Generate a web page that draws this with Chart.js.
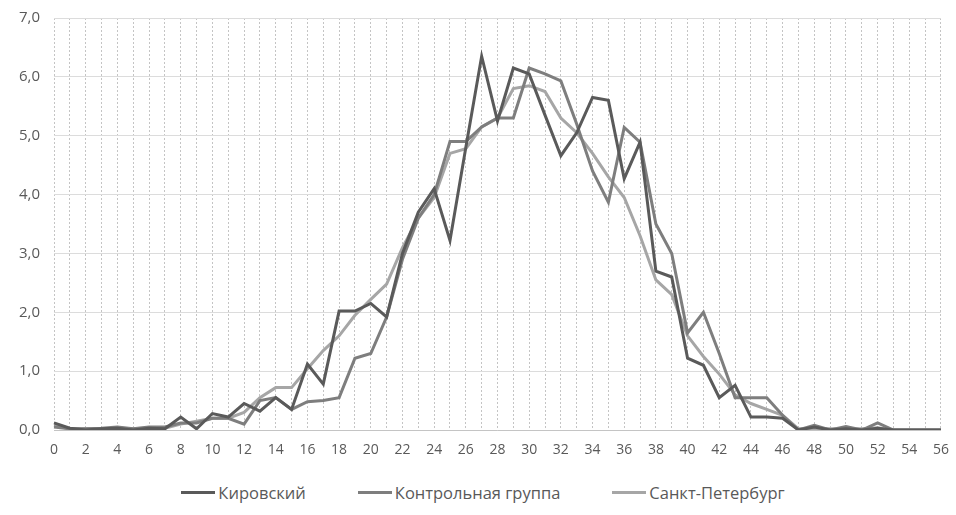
<!DOCTYPE html>
<html>
<head>
<meta charset="utf-8">
<script src="https://cdn.jsdelivr.net/npm/chart.js@4.4.1/dist/chart.umd.min.js"></script>
<style>
  html, body { margin: 0; padding: 0; background: #ffffff; }
  #wrap { width: 956px; height: 515px; overflow: hidden; }
  #chart { display: block; margin-top: -5px; }
  #legend {
    display: flex; justify-content: center; align-items: center;
    width: 956px; height: 45px; padding-left: 10px; box-sizing: border-box;
    font-family: 'Open Sans', sans-serif; font-size: 16.5px; color: #595959;
  }
  #legend .item { display: flex; align-items: center; margin: 0 26px; }
  #legend .swatch { display: inline-block; width: 34px; height: 3px; margin-right: 3px; }
</style>
</head>
<body>
<div id="wrap">
  <canvas id="chart" width="961" height="475"></canvas>
  <div id="legend"></div>
</div>
<script>
// x positions 0..56
var categories = [];
for (var i = 0; i <= 56; i++) { categories.push(String(i)); }

var seriesNames = ['Кировский', 'Контрольная группа', 'Санкт-Петербург'];

var kirovsky = [
  0.12, 0.03, 0.00, 0.02, 0.03, 0.00, 0.03, 0.02, 0.22, 0.02,
  0.28, 0.22, 0.45, 0.32, 0.55, 0.35, 1.12, 0.78, 2.02, 2.02,
  2.15, 1.92, 3.00, 3.70, 4.10, 3.22, 4.80, 6.35, 5.25, 6.15,
  6.05, 5.35, 4.66, 5.05, 5.65, 5.60, 4.27, 4.89, 2.70, 2.60,
  1.22, 1.10, 0.55, 0.76, 0.22, 0.22, 0.20, 0.00, 0.05, 0.00,
  0.02, 0.00, 0.03, 0.00, 0.00, 0.00, 0.00
];

var control = [
  0.05, 0.02, 0.02, 0.03, 0.05, 0.02, 0.05, 0.05, 0.12, 0.12,
  0.20, 0.20, 0.10, 0.50, 0.55, 0.35, 0.48, 0.50, 0.55, 1.22,
  1.30, 1.92, 2.90, 3.60, 4.00, 4.90, 4.90, 5.15, 5.30, 5.30,
  6.15, 6.05, 5.93, 5.20, 4.40, 3.87, 5.14, 4.89, 3.50, 3.00,
  1.65, 2.00, 1.30, 0.55, 0.55, 0.55, 0.25, 0.00, 0.08, 0.00,
  0.06, 0.00, 0.12, 0.00, 0.00, 0.00, 0.00
];

var spb = [
  0.08, 0.02, 0.02, 0.02, 0.03, 0.02, 0.03, 0.03, 0.10, 0.15,
  0.20, 0.20, 0.30, 0.55, 0.72, 0.72, 1.04, 1.35, 1.60, 1.95,
  2.22, 2.48, 3.10, 3.60, 3.95, 4.70, 4.78, 5.15, 5.30, 5.80,
  5.85, 5.75, 5.30, 5.05, 4.70, 4.30, 3.95, 3.30, 2.55, 2.30,
  1.60, 1.25, 0.95, 0.60, 0.45, 0.35, 0.25, 0.02, 0.03, 0.02,
  0.02, 0.02, 0.04, 0.00, 0.00, 0.00, 0.00
];

var yTicks = [0, 1, 2, 3, 4, 5, 6, 7];

var lineColors = ['#5a5a5a', '#7e7e7e', '#a6a6a6'];
var textColor = '#595959';

function makeSet(label, values, color) {
  return {
    label: label,
    data: values,
    borderColor: color,
    backgroundColor: color,
    borderWidth: 3,
    pointRadius: 0,
    tension: 0,
    fill: false
  };
}

var chart = new Chart(document.getElementById('chart'), {
  type: 'line',
  data: {
    labels: categories,
    datasets: [
      makeSet(seriesNames[0], kirovsky, lineColors[0]),
      makeSet(seriesNames[1], control, lineColors[1]),
      makeSet(seriesNames[2], spb, lineColors[2])
    ]
  },
  options: {
    responsive: false,
    animation: false,
    layout: { padding: { top: 0, right: 4, left: 0, bottom: 0 } },
    plugins: {
      legend: { display: false },
      tooltip: { enabled: false }
    },
    scales: {
      x: {
        offset: false,
        grid: { color: '#c4c4c4', lineWidth: 1, drawTicks: false },
        border: { display: true, color: '#c4c4c4', dash: [2, 2] },
        ticks: {
          autoSkip: false,
          maxRotation: 0,
          padding: 12,
          color: textColor,
          font: { family: 'Open Sans', size: 14 },
          callback: function (val, idx) {
            return idx % 2 === 0 ? categories[idx] : '';
          }
        },
        afterFit: function (scale) { scale.height = 40; }
      },
      y: {
        min: 0,
        max: 7,
        afterBuildTicks: function (scale) {
          scale.ticks = yTicks.map(function (v) { return { value: v }; });
        },
        grid: { color: '#dcdcdc', lineWidth: 1, drawTicks: false },
        border: { display: false },
        ticks: {
          padding: 14,
          color: textColor,
          font: { family: 'Open Sans', size: 15 },
          callback: function (v) { return v.toFixed(1).replace('.', ','); }
        },
        afterFit: function (scale) { scale.width = 54; }
      }
    }
  }
});

// Legend below the canvas, built from the chart's datasets
var legendEl = document.getElementById('legend');
chart.data.datasets.forEach(function (ds) {
  var item = document.createElement('span');
  item.className = 'item';
  var sw = document.createElement('span');
  sw.className = 'swatch';
  sw.style.background = ds.borderColor;
  item.appendChild(sw);
  item.appendChild(document.createTextNode(ds.label));
  legendEl.appendChild(item);
});
</script>
</body>
</html>
